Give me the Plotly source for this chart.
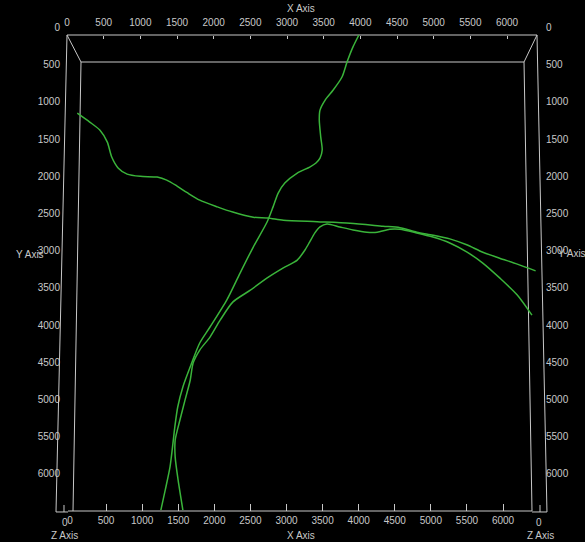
import plotly.graph_objects as go

# ---------------- data (X / Y units of the box) ----------------
curve_a_x = [140, 310, 450, 550, 610, 700, 820, 1000, 1230, 1360, 1500, 1640, 1810, 2050, 2260,
             2540, 2740, 2950, 3410, 3860, 4310, 4540, 4770, 4990, 5220, 5450, 5670, 5900, 6140, 6390]
curve_a_y = [1050, 1170, 1280, 1440, 1640, 1790, 1870, 1900, 1910, 1950, 2030, 2120, 2220, 2310, 2380,
             2450, 2460, 2490, 2510, 2530, 2570, 2590, 2650, 2690, 2740, 2820, 2920, 3000, 3080, 3170]

curve_b_x = [3980, 3900, 3820, 3750, 3630, 3520, 3450, 3440, 3460, 3480, 3450, 3395, 3310, 3140, 2970,
             2880, 2810, 2730, 2540, 2360, 2180, 1950, 1810, 1700, 1580, 1510, 1470, 1445, 1405, 1340, 1280]
curve_b_y = [0, 160, 360, 565, 740, 875, 1010, 1140, 1370, 1545, 1655, 1720, 1775, 1855, 1990,
             2125, 2310, 2510, 2850, 3200, 3560, 3925, 4140, 4410, 4730, 5000, 5270, 5485, 5805, 6115, 6385]

curve_c_x = [6340, 6140, 5900, 5670, 5450, 5220, 4990, 4770, 4540, 4400, 4230, 4090, 3900, 3720, 3545,
             3450, 3380, 3310, 3245, 3140, 2950, 2730, 2500, 2260, 2090, 1950, 1810, 1720, 1680, 1610,
             1540, 1475, 1475, 1515, 1580]
curve_c_y = [3765, 3495, 3265, 3065, 2915, 2795, 2715, 2660, 2610, 2610, 2650, 2650, 2620, 2580, 2540,
             2580, 2660, 2780, 2890, 3025, 3130, 3265, 3430, 3590, 3830, 4060, 4235, 4410, 4640, 4905,
             5175, 5445, 5670, 5980, 6385]

# tick labels
x_ticks = [0, 500, 1000, 1500, 2000, 2500, 3000, 3500, 4000, 4500, 5000, 5500, 6000]
y_ticks = [0, 500, 1000, 1500, 2000, 2500, 3000, 3500, 4000, 4500, 5000, 5500, 6000]
x_max = 6409
y_max = 6411

# box frame (perspective projection of the bounding box), segments as [x0, x1], [y0, y1]
frame_x = [[0, 6409], [0, -150], [-150, 14], [0, 191], [191, 6232], [6409, 6232], [6409, 6545],
           [191, 82], [6232, 6341], [14, 6341], [6341, 6545], [-41, -41], [6450, 6450]]
frame_y = [[0, 0], [0, 6411], [6411, 6411], [0, 363], [363, 363], [0, 363], [0, 6411],
           [363, 6398], [363, 6398], [6398, 6398], [6411, 6411], [6411, 6317], [6411, 6317]]

W, H = 585, 542
FG = "#c8c8c8"
FONT = "Liberation Sans, Arial, sans-serif"
GREEN = "#3ab43a"

def px(x):
    return x / W

def py(y):
    return 1 - y / H

fig = go.Figure()

# frame
for fx, fy in zip(frame_x, frame_y):
    fig.add_trace(go.Scatter(x=fx, y=fy, mode="lines", line=dict(color=FG, width=1),
                             hoverinfo="skip", showlegend=False))

# curves
for cx, cy in [(curve_a_x, curve_a_y), (curve_b_x, curve_b_y), (curve_c_x, curve_c_y)]:
    fig.add_trace(go.Scatter(x=cx, y=cy, mode="lines",
                             line=dict(color=GREEN, width=1.5, shape="spline", smoothing=0.7),
                             showlegend=False))

# dummy traces to hold the labelled axes
fig.add_trace(go.Scatter(x=[None], y=[None], xaxis="x2", yaxis="y2", showlegend=False))
fig.add_trace(go.Scatter(x=[None], y=[None], xaxis="x3", yaxis="y3", showlegend=False))

tickfont = dict(family=FONT, size=10, color=FG)

fig.update_layout(
    width=W, height=H,
    margin=dict(l=0, r=0, t=0, b=0, pad=0, autoexpand=False),
    paper_bgcolor="black", plot_bgcolor="rgba(0,0,0,0)",
    showlegend=False,
    font=dict(family=FONT, size=10, color=FG),
    xaxis=dict(domain=[0, 1], range=[-913.6, 7063.6], visible=False, automargin=False),
    yaxis=dict(domain=[0, 1], range=[6814.5, -470.4], visible=False, automargin=False),
    # top X axis
    xaxis2=dict(domain=[px(67), px(537)], range=[0, x_max], anchor="free", position=py(35),
                side="top", showgrid=False, zeroline=False, showline=False, automargin=False,
                tickmode="array", tickvals=x_ticks, ticks="inside", ticklen=3, tickcolor=FG,
                tickfont=tickfont, ticklabelstandoff=7),
    # left Y axis
    yaxis2=dict(domain=[py(504.5), py(27.5)], range=[y_max, 0], anchor="free", position=px(60),
                side="left", showgrid=False, zeroline=False, showline=False, automargin=False,
                tickmode="array", tickvals=y_ticks, ticks="", tickfont=tickfont),
    # bottom X axis
    xaxis3=dict(domain=[px(70), px(531.9)], range=[0, 6400], anchor="free", position=py(511),
                side="bottom", showgrid=False, zeroline=False, showline=False, automargin=False,
                tickmode="array", tickvals=x_ticks, ticks="inside", ticklen=7, tickcolor=FG,
                tickfont=tickfont, ticklabelstandoff=2),
    # right Y axis
    yaxis3=dict(domain=[py(504.5), py(27.5)], range=[y_max, 0], anchor="free", position=px(545),
                side="right", showgrid=False, zeroline=False, showline=False, automargin=False,
                tickmode="array", tickvals=y_ticks, ticks="", tickfont=tickfont),
)

annots = [
    ("X Axis", 301, 9), ("X Axis", 301, 535),
    ("Y Axis", 30, 254), ("Y Axis", 572, 253),
    ("Z Axis", 64, 535), ("Z Axis", 540, 535),
    ("0", 65, 522), ("0", 539, 522),
]
for text, x, y in annots:
    fig.add_annotation(text=text, x=px(x), y=py(y), xref="paper", yref="paper",
                       showarrow=False, font=dict(family=FONT, size=10, color=FG),
                       xanchor="center", yanchor="middle")

fig.write_html("out.html", config={"displayModeBar": False},
               post_script="document.body.style.margin='0';document.body.style.background='black';")
